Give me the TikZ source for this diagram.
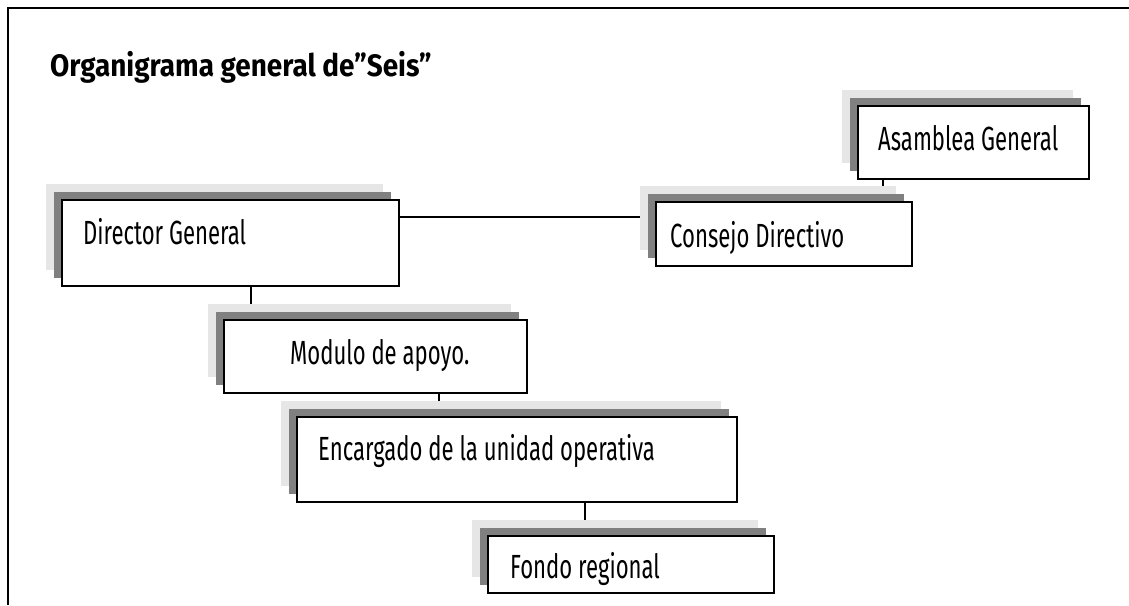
\documentclass[tikz,border=0pt]{standalone}
\usepackage{fontspec}
\setmainfont{Fira Sans}[FakeStretch=0.66]
\newfontfamily\titlefont{Fira Sans}[FakeStretch=0.9, Ligatures=TeX]
\usetikzlibrary{shadows,backgrounds}
\definecolor{shlight}{RGB}{230,230,230}
\definecolor{shdark}{RGB}{128,128,128}
\tikzset{
  orgbox/.style={draw=black, fill=white, line width=1.5pt, inner sep=0pt,
    copy shadow={shadow xshift=-16pt, shadow yshift=16pt, fill=shlight, draw=none},
    copy shadow={shadow xshift=-8pt, shadow yshift=8pt, fill=shdark, draw=none}},
  lbl/.style={anchor=base west, inner sep=0pt, font=\fontsize{33.5}{40}\selectfont},
  conn/.style={line width=1.4pt, black},
}
\begin{document}
\begin{tikzpicture}[x=1pt, y=-1pt]
\useasboundingbox (0,0) rectangle (1129,605);
% frame
\draw[line width=2.2pt] (8,605) -- (8,8) -- (1129,8);
% title
\node[anchor=base west, inner sep=0pt, font=\titlefont\fontsize{31}{36}\selectfont\bfseries] (title) at (50,76) {Organigrama general de”Seis”};
% boxes
\node[orgbox, minimum width=231pt, minimum height=73pt] (AG) at (973.5,142.5) {};
\node[orgbox, minimum width=256pt, minimum height=64pt] (CD) at (784,234) {};
\node[orgbox, minimum width=337pt, minimum height=86pt] (DG) at (230.5,243) {};
\node[orgbox, minimum width=303pt, minimum height=73pt] (MA) at (375.5,356.5) {};
\node[orgbox, minimum width=440pt, minimum height=85pt] (EU) at (517,459.5) {};
\node[orgbox, minimum width=286pt, minimum height=57pt] (FR) at (631,564.5) {};
% labels
\node[lbl] (AGt) at (878,150) {Asamblea General};
\node[lbl] (CDt) at (670,247) {Consejo Directivo};
\node[lbl] (DGt) at (83,244) {Director General};
\node[lbl] (MAt) at (290,364) {Modulo de apoyo.};
\node[lbl] (EUt) at (318,460) {Encargado de la unidad operativa};
\node[lbl] (FRt) at (510,578) {Fondo regional};
% connectors
\begin{scope}[on background layer]
\draw[conn] (AG.south -| 883,0) -- (CD.north -| 883,0);
\draw[conn] (DG.east |- 0,217) -- (CD.west |- 0,217);
\draw[conn] (DG.south -| 251,0) -- (MA.north -| 251,0);
\draw[conn] (MA.south -| 439,0) -- (EU.north -| 439,0);
\draw[conn] (EU.south -| 585,0) -- (FR.north -| 585,0);
\end{scope}
\end{tikzpicture}
\end{document}
